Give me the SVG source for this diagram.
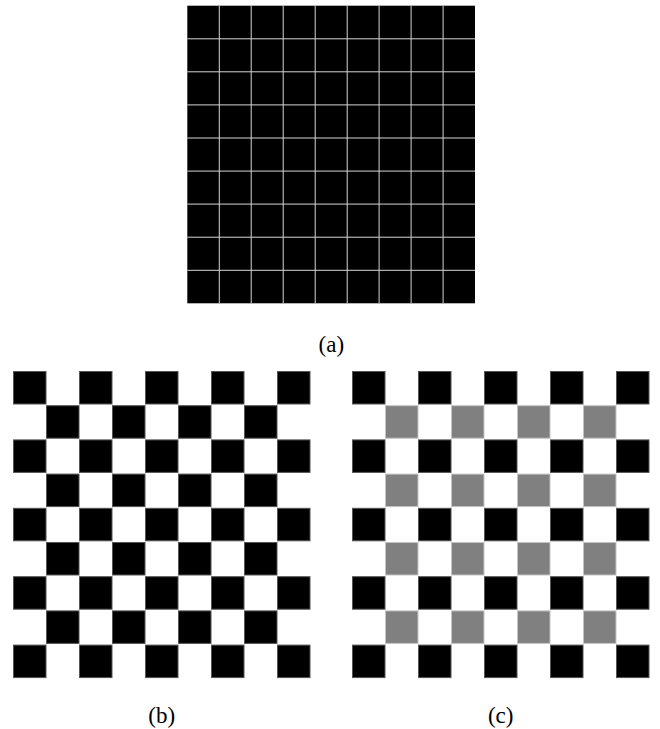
<svg xmlns="http://www.w3.org/2000/svg" xmlns:xlink="http://www.w3.org/1999/xlink" width="660" height="729" viewBox="0 0 660 729">
<style>
.lbl{font-family:"Liberation Serif","Times New Roman",serif;font-size:23px;fill:#000;text-anchor:middle}
.gl{stroke:#d6d6d6;stroke-width:1;fill:none}
.blk{fill:#000;stroke:#555;stroke-width:1}
.gry{fill:#808080;stroke:#c4c4c4;stroke-width:1}
</style>
<defs>
<g id="rowE">
<rect x="13.5" y="0" width="32.5" height="32.5"/>
<rect x="79.5" y="0" width="32.5" height="32.5"/>
<rect x="145.5" y="0" width="32.5" height="32.5"/>
<rect x="211.5" y="0" width="32.5" height="32.5"/>
<rect x="277.5" y="0" width="32.5" height="32.5"/>
</g>
<g id="rowO">
<rect x="46.5" y="0" width="32.5" height="32.5"/>
<rect x="112.5" y="0" width="32.5" height="32.5"/>
<rect x="178.5" y="0" width="32.5" height="32.5"/>
<rect x="244.5" y="0" width="32.5" height="32.5"/>
</g>
</defs>
<rect width="660" height="729" fill="#fff"/>
<g id="panel-a">
<rect x="187.3" y="5.7" width="287.7" height="297.6" fill="#000"/>
<path class="gl" d="M219.3 5.7V303.3M251.2 5.7V303.3M283.2 5.7V303.3M315.2 5.7V303.3M347.2 5.7V303.3M379.1 5.7V303.3M411.1 5.7V303.3M443.1 5.7V303.3M187.3 38.8H475M187.3 71.8H475M187.3 104.9H475M187.3 138H475M187.3 171.1H475M187.3 204.1H475M187.3 237.2H475M187.3 270.3H475"/>
<text class="lbl" x="331.3" y="352">(a)</text>
</g>
<g id="panel-b">
<use xlink:href="#rowE" class="blk" y="371.5"/>
<use xlink:href="#rowO" class="blk" y="405.7"/>
<use xlink:href="#rowE" class="blk" y="439.9"/>
<use xlink:href="#rowO" class="blk" y="474.1"/>
<use xlink:href="#rowE" class="blk" y="508.3"/>
<use xlink:href="#rowO" class="blk" y="542.5"/>
<use xlink:href="#rowE" class="blk" y="576.7"/>
<use xlink:href="#rowO" class="blk" y="610.9"/>
<use xlink:href="#rowE" class="blk" y="645.1"/>
<text class="lbl" x="161.7" y="722.6">(b)</text>
</g>
<g id="panel-c" transform="translate(339,0)">
<use xlink:href="#rowE" class="blk" y="371.5"/>
<use xlink:href="#rowO" class="gry" y="405.7"/>
<use xlink:href="#rowE" class="blk" y="439.9"/>
<use xlink:href="#rowO" class="gry" y="474.1"/>
<use xlink:href="#rowE" class="blk" y="508.3"/>
<use xlink:href="#rowO" class="gry" y="542.5"/>
<use xlink:href="#rowE" class="blk" y="576.7"/>
<use xlink:href="#rowO" class="gry" y="610.9"/>
<use xlink:href="#rowE" class="blk" y="645.1"/>
<text class="lbl" x="161.7" y="722.6">(c)</text>
</g>
</svg>
